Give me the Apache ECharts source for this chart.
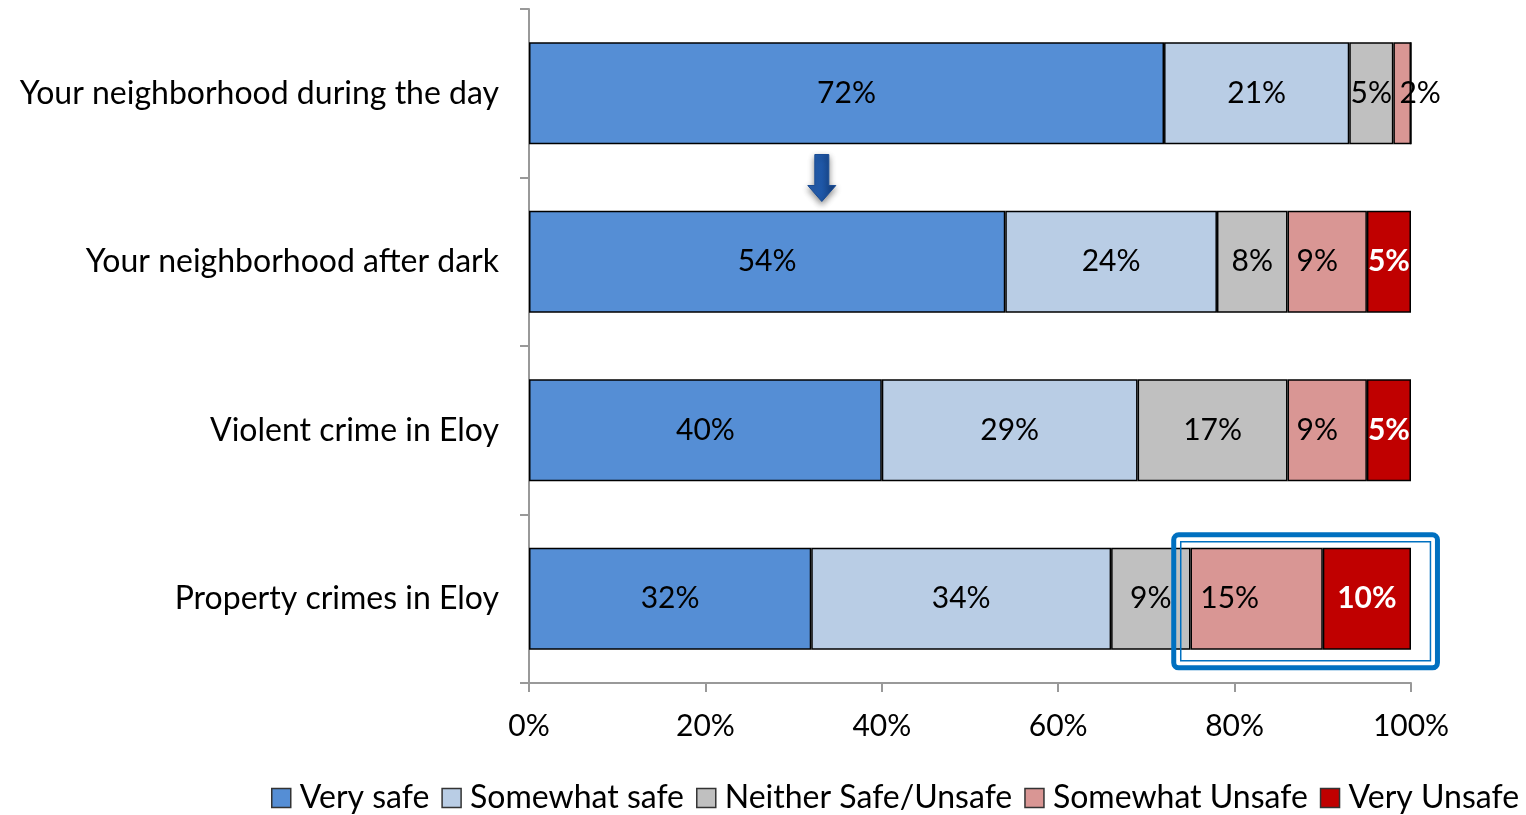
<!DOCTYPE html>
<html>
<head>
<meta charset="utf-8">
<script src="https://cdn.jsdelivr.net/npm/echarts@6/dist/echarts.min.js"></script>
<style>
    html, body { margin: 0; padding: 0; background: #fff; }
    #safety-chart { width: 1526px; height: 815px; }
</style>
</head>
<body>
<div id="safety-chart"></div>
<script>
// categories (top to bottom)
const categories = [
    'Your neighborhood during the day',
    'Your neighborhood after dark',
    'Violent crime in Eloy',
    'Property crimes in Eloy'
];
const seriesNames = ['Very safe', 'Somewhat safe', 'Neither Safe/Unsafe', 'Somewhat Unsafe', 'Very Unsafe'];
const verySafe = [72, 54, 40, 32];
const somewhatSafe = [21, 24, 29, 34];
const neither = [5, 8, 17, 9];
const somewhatUnsafe = [2, 9, 9, 15];
const veryUnsafe = [0, 5, 5, 10];
const xTicks = [0, 20, 40, 60, 80, 100];

const colors = ['#558ed5', '#b9cde5', '#c0c0c0', '#d99694', '#c00000'];
const font = 'Lato, "Open Sans", sans-serif';

// label nudges seen in the original: [series, row] -> offset
const labelOffsets = {
    '3-0': [18, 0],
    '3-1': [-10, 0],
    '3-2': [-10, 0],
    '3-3': [-27, 0]
};

const chart = echarts.init(document.getElementById('safety-chart'));

// 建立每個系列
const allData = [verySafe, somewhatSafe, neither, somewhatUnsafe, veryUnsafe];
const series = allData.map((vals, i) => {
    const white = i === 4;
    return {
        name: seriesNames[i],
        type: 'bar',
        stack: 'total',
        barWidth: '60.5%',
        itemStyle: { color: colors[i], borderColor: '#000', borderWidth: 1.5 },
        label: {
            show: true,
            position: 'inside',
            formatter: p => p.value > 0 ? p.value + '%' : '',
            fontFamily: font,
            fontSize: 30,
            color: white ? '#fff' : '#000',
            fontWeight: white ? 'bold' : 'normal'
        },
        data: vals.map((v, j) => {
            const off = labelOffsets[i + '-' + j];
            return off ? { value: v, label: { offset: off } } : v;
        })
    };
});

const option = {
    animation: false,
    backgroundColor: '#fff',
    grid: { left: 529, right: 115, top: 9, bottom: 132 },
    legend: {
        bottom: -4,
        left: 266,
        itemWidth: 19,
        itemHeight: 19,
        itemGap: 12,
        icon: 'rect',
        itemStyle: { borderColor: '#333', borderWidth: 1.5 },
        textStyle: { fontFamily: font, fontSize: 32, color: '#000', padding: [0, 0, 0, 4] },
        data: seriesNames
    },
    xAxis: {
        type: 'value',
        min: 0,
        max: 100,
        interval: 20,
        axisLine: { show: true, lineStyle: { color: '#999', width: 2 } },
        axisTick: { show: true, length: 9, lineStyle: { color: '#999', width: 2 } },
        splitLine: { show: false },
        axisLabel: {
            margin: 28,
            fontFamily: font,
            fontSize: 30,
            color: '#000',
            formatter: v => xTicks.includes(v) ? v + '%' : ''
        }
    },
    yAxis: {
        type: 'category',
        inverse: true,
        data: categories,
        axisLine: { show: true, lineStyle: { color: '#999', width: 2 } },
        axisTick: { show: true, length: 9, lineStyle: { color: '#999', width: 2 } },
        axisLabel: { margin: 30, fontFamily: font, fontSize: 32, color: '#000' }
    },
    series: series
};

chart.setOption(option);

// 註解: 箭頭 + 方框, 位置由座標軸換算
const band = chart.convertToPixel({ yAxisIndex: 0 }, categories[1]) - chart.convertToPixel({ yAxisIndex: 0 }, categories[0]);
const arrowX = chart.convertToPixel({ xAxisIndex: 0 }, 33.2);
const midY = (chart.convertToPixel({ yAxisIndex: 0 }, categories[0]) + chart.convertToPixel({ yAxisIndex: 0 }, categories[1])) / 2;
const boxL = chart.convertToPixel({ xAxisIndex: 0 }, 73.1);
const boxR = chart.convertToPixel({ xAxisIndex: 0 }, 103);
const boxC = chart.convertToPixel({ yAxisIndex: 0 }, categories[3]);
const boxT = boxC - band * 0.38;
const boxB = boxC + band * 0.41;

chart.setOption({
    graphic: [
        {
            type: 'polygon',
            shape: {
                points: [
                    [arrowX - 7, midY - 23], [arrowX + 7, midY - 23], [arrowX + 7, midY + 8],
                    [arrowX + 14, midY + 8], [arrowX, midY + 24], [arrowX - 14, midY + 8],
                    [arrowX - 7, midY + 8]
                ]
            },
            style: {
                fill: new echarts.graphic.LinearGradient(0, 0, 1, 0, [
                    { offset: 0, color: '#2b63b5' },
                    { offset: 0.5, color: '#1f58a8' },
                    { offset: 1, color: '#143f80' }
                ]),
                stroke: '#1a4c94',
                lineWidth: 1,
                shadowBlur: 6,
                shadowOffsetY: 3,
                shadowColor: 'rgba(0,0,0,0.45)'
            },
            z: 100
        },
        {
            type: 'rect',
            shape: { x: boxL, y: boxT, width: boxR - boxL, height: boxB - boxT, r: 5 },
            style: { fill: 'none', stroke: '#0070c0', lineWidth: 5 },
            z: 100
        },
        {
            type: 'rect',
            shape: { x: boxL + 7, y: boxT + 7, width: boxR - boxL - 14, height: boxB - boxT - 14 },
            style: { fill: 'none', stroke: '#0070c0', lineWidth: 1.5 },
            z: 100
        }
    ]
});

window.addEventListener('resize', () => chart.resize());
</script>
</body>
</html>
